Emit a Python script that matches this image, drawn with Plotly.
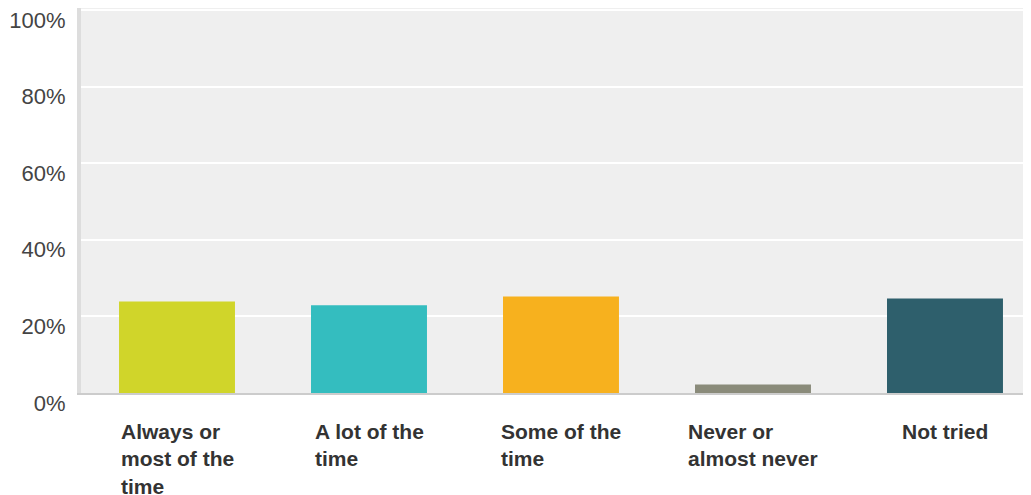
import plotly.graph_objects as go

categories = ["Always or<br>most of the<br>time", "A lot of the<br>time", "Some of the<br>time",
              "Never or<br>almost never", "Not tried"]
values = [23.9, 22.9, 25.2, 2.2, 24.7]
colors = ["#d0d52a", "#34bdbf", "#f7b11e", "#8a8b7a", "#2e5f6c"]
tick_vals = [0, 20, 40, 60, 80, 100]
tick_text = ["0%", "20%", "40%", "60%", "80%", "100%"]

x_idx = list(range(len(categories)))

fig = go.Figure(go.Bar(x=x_idx, y=values, marker=dict(color=colors, line=dict(width=0)),
                       width=0.604, hoverinfo="skip"))

for i, c in zip(x_idx, categories):
    fig.add_annotation(x=i, y=0, xref="x", yref="paper", yanchor="top", xanchor="center",
                       yshift=-25, text="<b>" + c + "</b>", align="left", showarrow=False,
                       font=dict(family="Liberation Sans, Arial, sans-serif", size=21, color="#333333"))

fig.update_layout(
    width=1023, height=487,
    margin=dict(l=73, r=0, t=0, b=102),
    paper_bgcolor="white", plot_bgcolor="#efefef",
    showlegend=False,
    xaxis=dict(range=[-0.5, 4.448], showticklabels=False, showgrid=False, zeroline=False,
               showline=True, linecolor="#cccccc", linewidth=2, fixedrange=True),
    yaxis=dict(range=[0, 100.5], tickvals=tick_vals, ticktext=tick_text,
               showgrid=True, gridcolor="white", gridwidth=2, zeroline=False,
               showline=True, linecolor="#dddddd", linewidth=4,
               ticklabelshift=10, ticklabelstandoff=7, ticklabeloverflow="allow",
               tickfont=dict(family="Liberation Sans, Arial, sans-serif", size=22, color="#444444")),
)

fig.write_html("out.html")
